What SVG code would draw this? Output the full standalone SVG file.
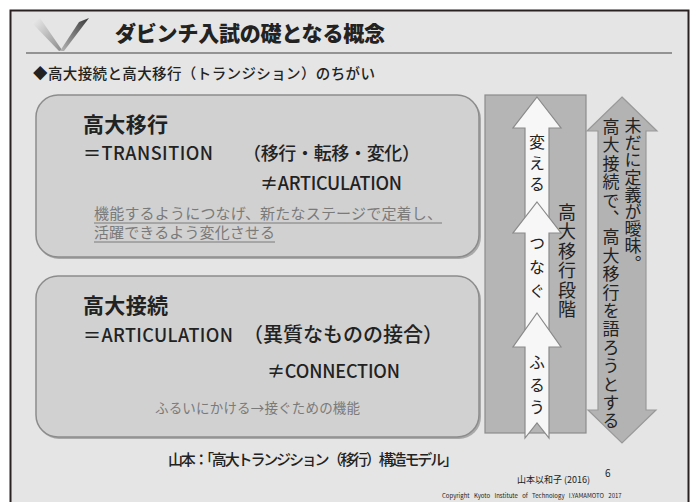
<svg xmlns="http://www.w3.org/2000/svg" width="698" height="502" viewBox="0 0 698 502">
<style>
.jp{font-family:"Noto Sans CJK JP","Noto Sans",sans-serif;fill:#222}
.md{font-weight:500}
.vt{writing-mode:vertical-rl;font-family:"Noto Sans CJK JP",sans-serif;fill:#222}
.box{fill:#d1d1d1;stroke:#8c8c8c;stroke-width:1.5}
.sh{fill:#a9a9a9}
.wa{fill:#f7f7f7;stroke:#8a8a8a;stroke-width:1.2}
.gray{fill:#7a7a7a}
</style>
<defs>
<linearGradient id="gL" x1="0" y1="0" x2="1" y2="1"><stop offset="0" stop-color="#f0f0f0"/><stop offset="1" stop-color="#8a8a8a"/></linearGradient>
<linearGradient id="gR" x1="1" y1="0" x2="0" y2="1"><stop offset="0" stop-color="#3a3a3a"/><stop offset="1" stop-color="#b5b5b5"/></linearGradient>
</defs>
<rect x="0" y="0" width="698" height="502" fill="#ffffff"/>
<rect x="10.5" y="10.5" width="678" height="500" fill="#e4e5e4" stroke="#2a2222" stroke-width="2"/>
<g id="header">
<polygon points="32,23 40,18 62,50 59,51" fill="url(#gL)"/>
<polygon points="60,51 79,22 89,18 64,51" fill="url(#gR)"/>
<text class="jp" x="115" y="41" font-size="21" font-weight="900" textLength="270">ダビンチ入試の礎となる概念</text>
<line x1="26" y1="53" x2="672" y2="53" stroke="#777" stroke-width="1.5"/>
<text class="jp md" x="33" y="79" font-size="14.5" textLength="342" fill="#111">◆高大接続と高大移行（トランジション）のちがい</text>
</g>
<g id="box-transition">
<rect class="sh" x="37" y="97" width="444" height="162" rx="22"/>
<rect class="box" x="36" y="95" width="443" height="162" rx="22"/>
<text class="jp" x="83" y="132" font-size="21" font-weight="bold" textLength="85">高大移行</text>
<text class="jp md" x="83" y="160" font-size="18" textLength="130">＝TRANSITION</text>
<text class="jp md" x="243" y="160" font-size="18" textLength="177">（移行・転移・変化）</text>
<text class="jp md" x="260" y="190" font-size="18" textLength="142">≠ARTICULATION</text>
<text class="jp gray" x="94" y="219" font-size="15" textLength="348">機能するようにつなげ、新たなステージで定着し、</text>
<line x1="94" y1="223" x2="442" y2="223" stroke="#7a7a7a" stroke-width="1"/>
<text class="jp gray" x="94" y="238" font-size="15" textLength="181">活躍できるよう変化させる</text>
<line x1="94" y1="242" x2="275" y2="242" stroke="#7a7a7a" stroke-width="1"/>
</g>
<g id="box-articulation">
<rect class="sh" x="37" y="278" width="444" height="161" rx="22"/>
<rect class="box" x="36" y="276" width="443" height="161" rx="22"/>
<text class="jp" x="83" y="313" font-size="21" font-weight="bold" textLength="85">高大接続</text>
<text class="jp md" x="83" y="342" font-size="18" textLength="150">＝ARTICULATION</text>
<text class="jp md" x="243" y="342" font-size="20" textLength="200">（異質なものの接合）</text>
<text class="jp md" x="267" y="378" font-size="18" textLength="133">≠CONNECTION</text>
<text class="jp gray" x="155" y="413" font-size="13.5" textLength="205">ふるいにかける→接ぐための機能</text>
</g>
<g id="stage">
<rect x="485" y="95" width="101" height="338" fill="#b5b5b5" stroke="#8c8c8c" stroke-width="1.2"/>
<text class="vt" x="567" y="203" font-size="18" letter-spacing="1.5">高大移行段階</text>
</g>
<g id="connectors">
<g id="arrow-kaeru">
<polygon class="wa" points="537,97 561,128 549,128 549,226 525,226 525,128 513,128"/>
<text class="vt" x="537" y="134" font-size="16" letter-spacing="5">変える</text>
</g>
<g id="arrow-tsunagu">
<polygon class="wa" points="537,202 561,233 549,233 549,336 525,336 525,233 513,233"/>
<text class="vt" x="537" y="235" font-size="16" letter-spacing="8">つなぐ</text>
</g>
<g id="arrow-furuu">
<polygon class="wa" points="537,313 561,347 549,347 549,438 537,423 525,438 525,347 513,347"/>
<text class="vt" x="537" y="354" font-size="16" letter-spacing="6.5">ふるう</text>
</g>
<g id="double-arrow">
<polygon points="622,97 657,131 646,131 646,410 656,410 622,443 588,410 598,410 598,131 587,131" fill="#b3b3b3" stroke="#999" stroke-width="1.2"/>
<text class="vt" x="633" y="117" font-size="17" letter-spacing="0.2">未だに定義が曖昧。</text>
<text class="vt" x="611" y="118" font-size="17" letter-spacing="1.4">高大接続で、高大移行を語ろうとする</text>
</g>
</g>
<g id="footer">
<text class="jp md" x="168" y="465" font-size="15" textLength="290">山本：「高大トランジション（移行）構造モデル」</text>
<text class="jp" x="517" y="483" font-size="9">山本以和子 (2016)</text>
<text class="jp" x="605" y="477" font-size="10">6</text>
<text class="jp" x="442" y="498" font-size="6" word-spacing="3">Copyright Kyoto Institute of Technology I.YAMAMOTO 2017</text>
</g>
</svg>
